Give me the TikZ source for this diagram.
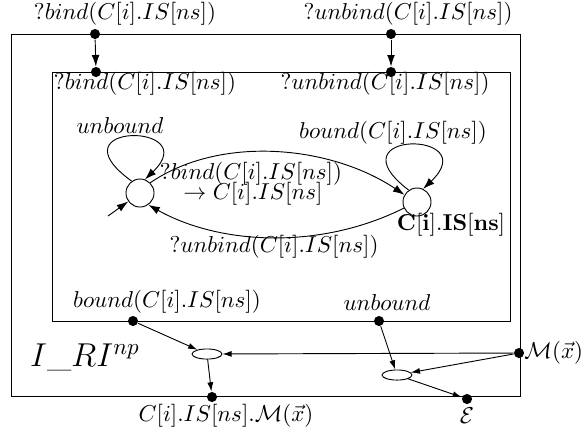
\documentclass[tikz,border=0pt]{standalone}
\usetikzlibrary{arrows.meta,shapes.geometric}
\begin{document}
\begin{tikzpicture}[x=0.4352pt,y=-0.4352pt,
  dot/.style={circle,fill,inner sep=0pt,minimum size=4.4pt},
  state/.style={circle,draw,inner sep=0pt,minimum size=12.2pt},
  junc/.style={ellipse,draw,inner sep=0pt,minimum width=13pt,minimum height=4.4pt},
  arr/.style={-{Latex[length=5pt,width=3.4pt]}},
  sarr/.style={-{Latex[length=4pt,width=2.6pt]}},
  lbl/.style={inner sep=0pt}]
\useasboundingbox (0,0) rectangle (581,439);
% boxes
\draw (11,34) rectangle (520,396);
\draw (52,72) rectangle (510,321);
% top ports
\node[dot] (ob) at (95,34) {};
\node[dot] (ib) at (96,72) {};
\node[dot] (ou) at (391,34) {};
\node[dot] (iu) at (391,72) {};
\draw[arr] (ob) -- (ib);
\draw[arr] (ou) -- (iu);
\node[lbl] (lob) at (125,14) {$?bind(C[i].IS[ns])$};
\node[lbl] (lou) at (408,14) {$?unbind(C[i].IS[ns])$};
\node[lbl] (lib) at (145,84) {$?bind(C[i].IS[ns])$};
\node[lbl] (liu) at (385,84) {$?unbind(C[i].IS[ns])$};
% states
\node[state] (s0) at (140,193) {};
\node[state] (s1) at (417,202) {};
\coordinate (init) at (108,216);
\draw[arr] (init) -- (s0);
\draw[arr] (s0.125) .. controls (50,122) and (205,122) .. (s0.70);
\node[lbl] (lu) at (120,126) {$unbound$};
\draw[arr] (s1.125) .. controls (330,130) and (485,130) .. (s1.65);
\node[lbl] (lb) at (393,133) {$bound(C[i].IS[ns])$};
\draw[arr] (s0.45) .. controls (220,135) and (330,145) .. (s1.150);
\draw[arr] (s1.205) .. controls (320,250) and (220,245) .. (s0.-55);
\node[lbl] (t1) at (251,174) {$?bind(C[i].IS[ns])$};
\node[lbl] (t2) at (253,194) {$\rightarrow C[i].IS[ns]$};
\node[lbl] (t3) at (274,247) {$?unbind(C[i].IS[ns])$};
\node[lbl] (sl) at (451,225) {$\mathbf{C[i].IS[ns]}$};
% bottom
\node[dot] (bd) at (133,321) {};
\node[dot] (ud) at (379,321) {};
\node[lbl] (lbd) at (167,302) {$bound(C[i].IS[ns])$};
\node[lbl] (lud) at (387,303) {$unbound$};
\node[junc] (e1) at (207,354) {};
\node[junc] (e2) at (397,375) {};
\node[dot] (md) at (519,353) {};
\node[lbl,anchor=west] (lmd) at (524,353) {$\mathcal{M}(\vec{x})$};
\node[dot] (od) at (212,397) {};
\node[lbl] (lod) at (226,416) {$C[i].IS[ns].\mathcal{M}(\vec{x})$};
\node[dot] (ed) at (467,399) {};
\node[lbl] (led) at (467,416) {$\mathcal{E}$};
\node[lbl] (title) at (85,357) {\Large $I\_RI^{np}$};
\draw[sarr] (bd) -- (e1);
\draw[sarr] (md) -- (e1);
\draw[sarr] (e1) -- (od);
\draw[sarr] (ud) -- (e2);
\draw[sarr] (md) -- (e2);
\draw[sarr] (e2) -- (ed);
\end{tikzpicture}
\end{document}
